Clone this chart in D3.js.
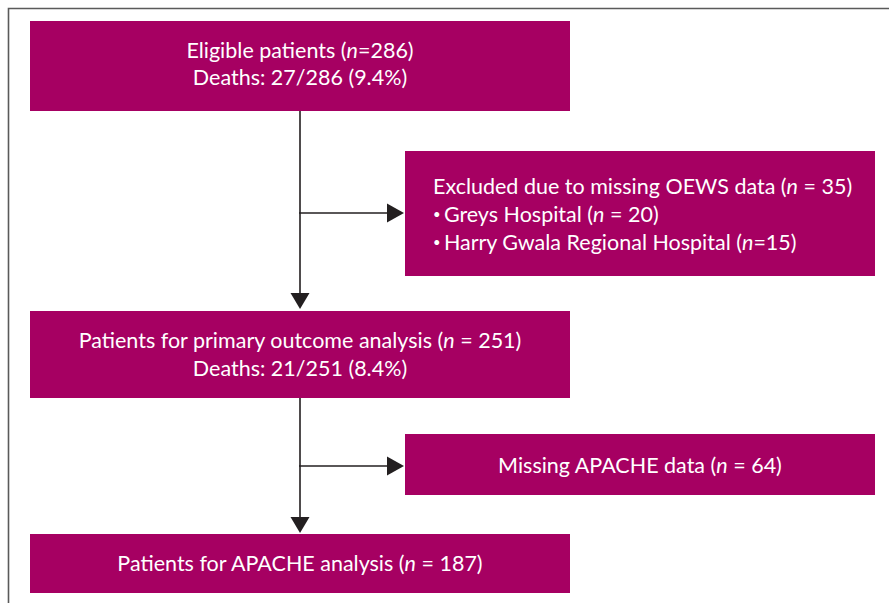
<!DOCTYPE html>
<html><head><meta charset="utf-8">
<script src="https://cdn.jsdelivr.net/npm/d3@7"></script>
<style>html,body{margin:0;padding:0;background:#fff;} svg{display:block;}</style>
</head><body>
<div id="chart"></div>
<script>
// ---- data ----
const eligibleN = 286, eligibleDeaths = 27, eligiblePct = "9.4%";
const excludedN = 35;
const excludedHospitals = ["Greys Hospital", "Harry Gwala Regional Hospital"];
const excludedHospitalN = [20, 15];
const primaryN = 251, primaryDeaths = 21, primaryPct = "8.4%";
const missingApacheN = 64;
const apacheN = 187;

const W = 889, H = 603;
const FILL = "#a60062", INK = "#231f20";
const svg = d3.select("#chart").append("svg").attr("width", W).attr("height", H);

// frame
svg.append("path").attr("d", `M8.5,${H}V8.5H${W}`).attr("fill","none").attr("stroke","#5a5a5a").attr("stroke-width",1.6);

// layout scales
const xMain = d3.scaleLinear().domain([0,1]).range([30,570]);
const xSide = d3.scaleLinear().domain([0,1]).range([405,875]);
const trunkX = 300;

const boxes = [
  {id:"elig", x0:xMain(0), x1:xMain(1), y0:21, y1:111},
  {id:"excl", x0:xSide(0), x1:xSide(1), y0:151, y1:276},
  {id:"prim", x0:xMain(0), x1:xMain(1), y0:311, y1:398},
  {id:"miss", x0:xSide(0), x1:xSide(1), y0:434, y1:495},
  {id:"apac", x0:xMain(0), x1:xMain(1), y0:534, y1:593}
];
svg.selectAll("rect.box").data(boxes).join("rect").attr("class","box")
  .attr("x",d=>d.x0).attr("y",d=>d.y0).attr("width",d=>d.x1-d.x0).attr("height",d=>d.y1-d.y0)
  .attr("fill",FILL);

// connectors
const g = svg.append("g").attr("stroke",INK).attr("stroke-width",1.6).attr("fill","none");
function vArrow(x,y0,y1){
  g.append("line").attr("x1",x).attr("x2",x).attr("y1",y0).attr("y2",y1-14);
  svg.append("path").attr("d",`M${x-9.5},${y1-16}L${x+9.5},${y1-16}L${x},${y1}Z`).attr("fill",INK);
}
function hArrow(x0,x1,y){
  g.append("line").attr("x1",x0).attr("x2",x1-14).attr("y1",y).attr("y2",y);
  svg.append("path").attr("d",`M${x1-17},${y-9.5}L${x1-17},${y+9.5}L${x1},${y}Z`).attr("fill",INK);
}
vArrow(trunkX, boxes[0].y1, boxes[2].y0-2);
hArrow(trunkX-1, boxes[1].x0-1, 213);
vArrow(trunkX, boxes[2].y1, boxes[4].y0-1);
hArrow(trunkX-1, boxes[3].x0-1, 466);

// text helper: parts array [{t, it, sm}]
const FONT = "Lato, 'Open Sans', sans-serif";
function label(x, y, parts, anchor){
  const t = svg.append("text").attr("x",x).attr("y",y).attr("fill","#fff")
    .attr("font-family",FONT).attr("font-size",21.5).attr("text-anchor",anchor||"middle");
  parts.forEach(p=>{
    const s = t.append("tspan").text(p.t).attr("font-style",p.it?"italic":"normal");
    if (p.sm) s.attr("font-size",13).attr("dy",-3);
    if (p.back) s.attr("dy",3);
  });
  return t;
}
const cx = (xMain(0)+xMain(1))/2;
label(cx, 58, [{t:"Eligible patients ("},{t:"n",it:1},{t:`=${eligibleN})`}]);
label(cx, 85, [{t:`Deaths: ${eligibleDeaths}/${eligibleN} (${eligiblePct})`}]);

label(433, 194, [{t:"Excluded due to missing OEWS data ("},{t:"n",it:1},{t:` = ${excludedN})`}], "start");
label(433, 222, [{t:"\u2022 ",sm:1},{t:`${excludedHospitals[0]} (`,back:1},{t:"n",it:1},{t:` = ${excludedHospitalN[0]})`}], "start");
label(433, 250, [{t:"\u2022 ",sm:1},{t:`${excludedHospitals[1]} (`,back:1},{t:"n",it:1},{t:`=${excludedHospitalN[1]})`}], "start");

label(cx, 348, [{t:"Patients for primary outcome analysis ("},{t:"n",it:1},{t:` = ${primaryN})`}]);
label(cx, 376, [{t:`Deaths: ${primaryDeaths}/${primaryN} (${primaryPct})`}]);

label((xSide(0)+xSide(1))/2, 473, [{t:"Missing APACHE data ("},{t:"n",it:1},{t:` = ${missingApacheN})`}]);
label(cx, 571, [{t:"Patients for APACHE analysis ("},{t:"n",it:1},{t:` = ${apacheN})`}]);
</script>
</body></html>
